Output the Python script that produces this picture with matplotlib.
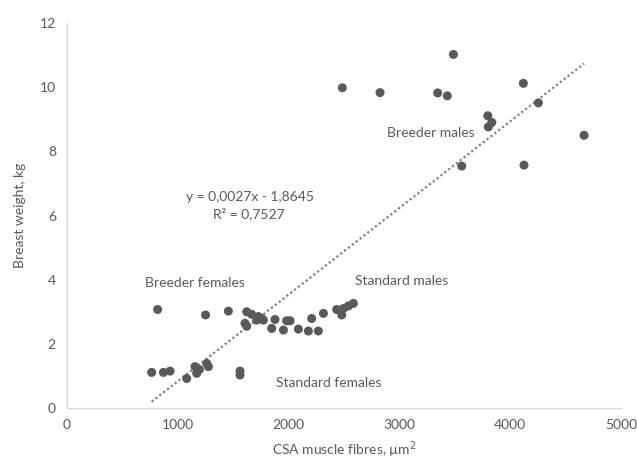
import matplotlib
matplotlib.use("Agg")
import matplotlib.pyplot as plt
import numpy as np

plt.rcParams['font.family'] = ['Lato', 'DejaVu Sans']

# CSA of muscle fibres (µm²) and breast weight (kg) per bird group
std_female_x = [764, 870, 930, 1080, 1155, 1170, 1195, 1261, 1276, 1561, 1561]
std_female_y = [1.11, 1.11, 1.15, 0.92, 1.29, 1.08, 1.20, 1.39, 1.29, 1.15, 1.03]

brd_female_x = [818, 1250, 1456, 1622, 1667, 1606, 1622, 1727, 1772, 1712, 1757,
                1877, 1847, 1953, 1982, 2013, 2088, 2178, 2268]
brd_female_y = [3.07, 2.90, 3.02, 3.00, 2.92, 2.64, 2.55, 2.85, 2.74, 2.74, 2.79,
                2.76, 2.48, 2.43, 2.72, 2.72, 2.46, 2.40, 2.40]

std_male_x = [2208, 2314, 2434, 2479, 2494, 2539, 2584]
std_male_y = [2.79, 2.95, 3.07, 2.90, 3.10, 3.18, 3.26]

brd_male_x = [2485, 2825, 3345, 3432, 3487, 4118, 4254, 3797, 3833, 3802, 4666, 3562, 4124]
brd_male_y = [9.98, 9.83, 9.82, 9.73, 11.02, 10.12, 9.51, 9.11, 8.90, 8.76, 8.50, 7.54, 7.57]

# linear trend reported on the chart
slope = 0.0027
intercept = -1.8645
r_squared = 0.7527

text_col = '#595959'
dot_col = '#595959'

fig = plt.figure(figsize=(6.37, 4.74), dpi=100)
ax = fig.add_axes([0.1052, 0.1392, 0.8698, 0.8123])

all_x = np.array(std_female_x + brd_female_x + std_male_x + brd_male_x, dtype=float)
all_y = np.array(std_female_y + brd_female_y + std_male_y + brd_male_y, dtype=float)

ax.scatter(all_x, all_y, s=42, color=dot_col, edgecolors='none', zorder=3)

tx = np.array([all_x.min(), all_x.max()])
ax.plot(tx, slope * tx + intercept, linestyle=(0, (1, 1.2)), color='#7f7f7f',
        linewidth=1.6, zorder=2)

ax.set_xlim(0, 5000)
ax.set_ylim(0, 12)
ax.set_xticks(np.arange(0, 5001, 1000))
ax.set_yticks(np.arange(0, 13, 2))
ax.tick_params(length=0, labelsize=10, colors=text_col, pad=8)
for side in ('top', 'right'):
    ax.spines[side].set_visible(False)
for side in ('left', 'bottom'):
    ax.spines[side].set_color('#d9d9d9')
    ax.spines[side].set_linewidth(1.0)

ax.set_xlabel('CSA muscle fibres, µm$^2$', fontsize=10, color=text_col, labelpad=6)
ax.set_ylabel('Breast weight, kg', fontsize=10, color=text_col, labelpad=10)

ann = dict(fontsize=10, color=text_col, ha='center', va='center')
ax.text(1155, 3.9, 'Breeder females', **ann)
ax.text(3023, 3.96, 'Standard males', **ann)
ax.text(2365, 0.78, 'Standard females', **ann)
ax.text(3285, 8.57, 'Breeder males', **ann)

eq = f'y = {slope:.4f}x - {abs(intercept):.4f}'.replace('.', ',')
r2 = f'R² = {r_squared:.4f}'.replace('.', ',')
ax.text(1650, 6.57, eq, **ann)
ax.text(1640, 6.07, r2, **ann)

fig.savefig('out.png', dpi=100)
